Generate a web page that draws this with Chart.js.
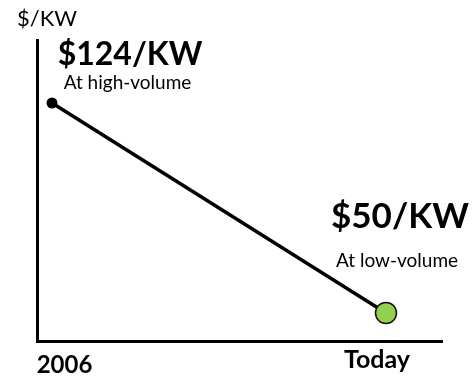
<!DOCTYPE html>
<html>
<head>
<meta charset="utf-8">
<script src="https://cdn.jsdelivr.net/npm/chart.js@4/dist/chart.umd.min.js"></script>
<style>
  html, body { margin: 0; padding: 0; background: #fff; }
  #wrap { width: 472px; height: 377px; }
</style>
</head>
<body>
<div id="wrap"><canvas id="c" width="472" height="377"></canvas></div>
<script>
// Cost per kilowatt, then and now
const periods = ['2006', 'Today'];
const periodPos = [0, 1];
const costPerKW = [124, 50];
const volumeNotes = ['At high-volume', 'At low-volume'];
const unitLabel = '$/KW';

const FONT = 'Lato, "Open Sans", sans-serif';

// Value callouts, period labels and the unit caption, placed from the scales
const annotate = {
  id: 'annotate',
  afterDatasetsDraw(chart) {
    const ctx = chart.ctx;
    const pts = chart.getDatasetMeta(0).data;
    const xs = chart.scales.x, ys = chart.scales.y;
    ctx.save();
    ctx.fillStyle = '#000';
    ctx.textBaseline = 'alphabetic';

    // unit caption above the value axis
    ctx.textAlign = 'left';
    ctx.font = '400 22px ' + FONT;
    ctx.fillText(unitLabel, xs.left - 20, ys.top - 14);

    // callouts: value (bold) and volume note
    const offs = [
      { vdx: 78, vy: -38, vsize: 32, ndx: 75.5, ny: -14 },
      { vdx: 14, vy: -85, vsize: 35, ndx: 11, ny: -46 }
    ];
    pts.forEach((p, i) => {
      const o = offs[i];
      ctx.textAlign = 'center';
      ctx.font = '700 ' + o.vsize + 'px ' + FONT;
      ctx.fillText('$' + costPerKW[i] + '/KW', p.x + o.vdx, p.y + o.vy);
      ctx.font = '400 19px ' + FONT;
      ctx.fillText(volumeNotes[i], p.x + o.ndx, p.y + o.ny);
    });

    // period labels under the time axis
    const lab = [
      { dx: 12.5, y: 32, size: 24 },
      { dx: -9, y: 27, size: 25 }
    ];
    periods.forEach((t, i) => {
      ctx.textAlign = 'center';
      ctx.font = '700 ' + lab[i].size + 'px ' + FONT;
      ctx.fillText(t, xs.getPixelForValue(periodPos[i]) + lab[i].dx, ys.bottom + lab[i].y);
    });
    ctx.restore();
  }
};

new Chart(document.getElementById('c'), {
  type: 'line',
  data: {
    datasets: [{
      data: periodPos.map((x, i) => ({ x: x, y: costPerKW[i] })),
      borderColor: '#000',
      borderWidth: 3.5,
      pointRadius: [5.5, 10.5],
      pointBackgroundColor: ['#000', '#92D050'],
      pointBorderColor: ['#000', '#111'],
      pointBorderWidth: [0, 1.5],
      clip: false,
      tension: 0
    }]
  },
  options: {
    responsive: false,
    animation: false,
    devicePixelRatio: 1,
    layout: { padding: { left: 37, top: 40, right: 30, bottom: 36 } },
    plugins: { legend: { display: false }, tooltip: { enabled: false } },
    scales: {
      x: {
        type: 'linear',
        min: -0.0449,
        max: 1.1677,
        grid: { display: false, drawTicks: false },
        border: { display: true, color: '#000', width: 3 },
        ticks: { display: false }
      },
      y: {
        type: 'linear',
        min: 40.13,
        max: 146.2,
        grid: { display: false, drawTicks: false },
        border: { display: true, color: '#000', width: 3 },
        ticks: { display: false }
      }
    }
  },
  plugins: [annotate]
});
</script>
</body>
</html>
